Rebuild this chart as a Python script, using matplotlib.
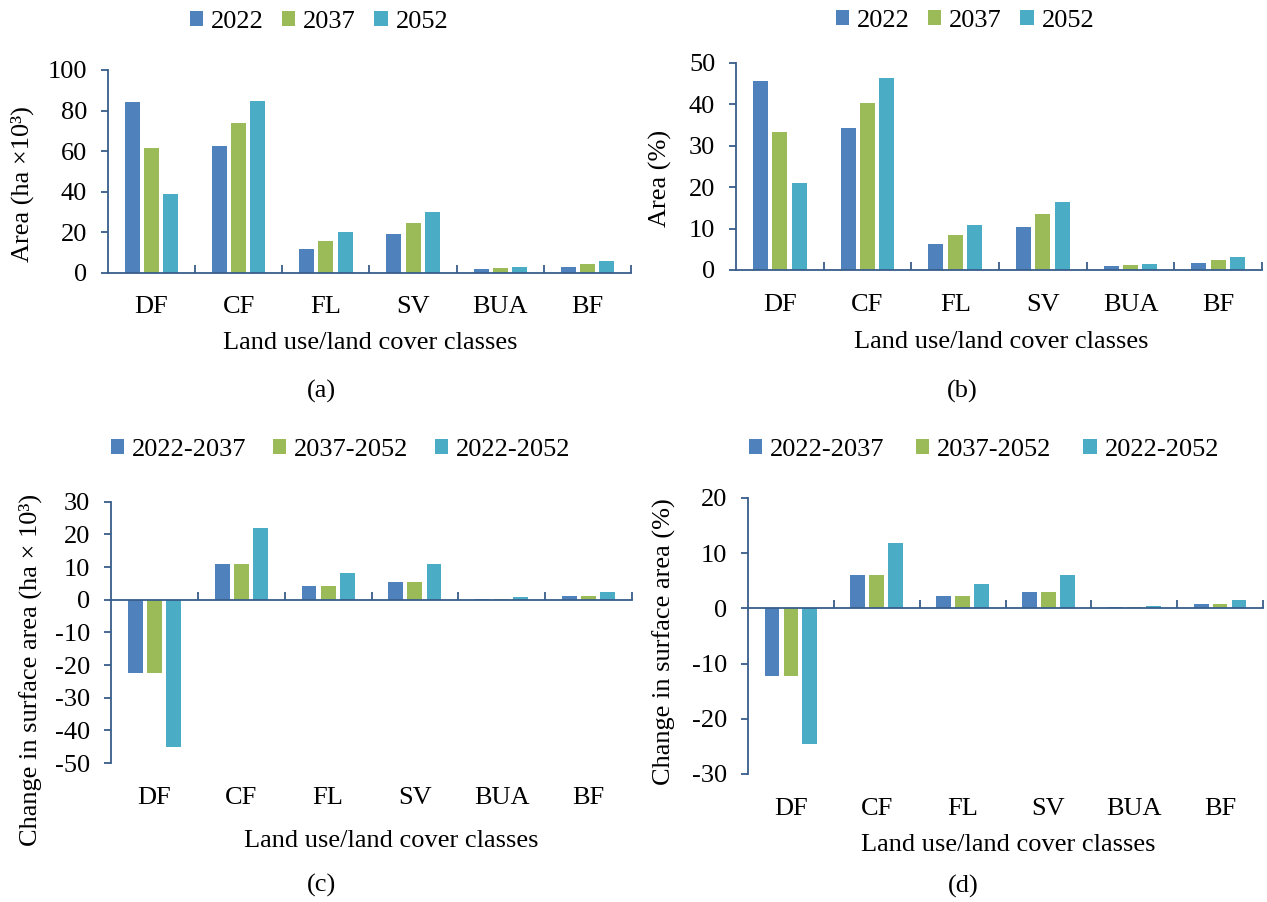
import matplotlib
matplotlib.use("Agg")
import matplotlib.pyplot as plt
import numpy as np
from matplotlib.patches import Patch

plt.rcParams["font.family"] = ["Liberation Serif", "DejaVu Serif"]
plt.rcParams["font.size"] = 19
plt.rcParams["axes.unicode_minus"] = False

# ---- data -------------------------------------------------------------
classes = ["DF", "CF", "FL", "SV", "BUA", "BF"]
years = ["2022", "2037", "2052"]
periods = ["2022-2037", "2037-2052", "2022-2052"]

# (a) area, ha x 10^3
area_2022 = [84.0, 62.7, 11.5, 18.9, 1.7, 3.0]
area_2037 = [61.4, 73.7, 15.6, 24.4, 2.3, 4.1]
area_2052 = [38.8, 84.9, 19.9, 30.1, 2.8, 5.6]

# (b) area, %
pct_2022 = [45.7, 34.2, 6.3, 10.3, 1.0, 1.6]
pct_2037 = [33.4, 40.2, 8.5, 13.4, 1.2, 2.3]
pct_2052 = [21.1, 46.2, 10.9, 16.4, 1.5, 3.1]

# (c) change in surface area, ha x 10^3
chg_ha_2022_2037 = [-22.5, 10.8, 4.2, 5.5, 0.3, 1.2]
chg_ha_2037_2052 = [-22.5, 10.8, 4.2, 5.5, 0.3, 1.2]
chg_ha_2022_2052 = [-45.0, 21.8, 8.3, 11.0, 0.8, 2.5]

# (d) change in surface area, %
chg_pct_2022_2037 = [-12.2, 6.0, 2.3, 3.0, 0.2, 0.8]
chg_pct_2037_2052 = [-12.2, 6.0, 2.3, 3.0, 0.2, 0.8]
chg_pct_2022_2052 = [-24.5, 11.9, 4.5, 6.1, 0.5, 1.45]

# ---- style ------------------------------------------------------------
COLORS = ["#4F81BD", "#9BBB59", "#4BACC6"]
AXIS_COLOR = "#385D8A"
W, H = 1267, 902

fig = plt.figure(figsize=(W / 100, H / 100), dpi=100)


def px_rect(left, top, right, bottom):
    return [left / W, 1 - bottom / H, (right - left) / W, (bottom - top) / H]


def panel(box, series, names, ylim, ystep, ylabel, ylabel_xy, xlabel_xy,
          tag, tag_xy, legend_xy, colspace):
    left, top, right, bottom = box
    ax = fig.add_axes(px_rect(left, top, right, bottom))
    x = np.arange(len(classes))
    offsets = [-0.22, 0.0, 0.22]
    for vals, off, col in zip(series, offsets, COLORS):
        ax.bar(x + off, vals, width=0.172, color=col, linewidth=0)

    ax.set_xlim(-0.5, len(classes) - 0.5)
    ax.set_ylim(*ylim)
    ax.set_yticks(np.arange(ylim[0], ylim[1] + ystep / 2, ystep))

    for s in ("top", "right"):
        ax.spines[s].set_visible(False)
    for s in ("left", "bottom"):
        ax.spines[s].set_color(AXIS_COLOR)
        ax.spines[s].set_linewidth(1.3)
    ax.spines["bottom"].set_position(("data", 0))

    # category separators on the zero line
    ax.set_xticks(x)
    ax.set_xticks(np.arange(0.5, len(classes), 1.0), minor=True)
    ax.tick_params(axis="x", which="major", length=0, labelbottom=False)
    ax.tick_params(axis="x", which="minor", direction="in", length=6,
                   width=1.3, color=AXIS_COLOR)
    ax.tick_params(axis="y", direction="out", length=5, width=1.3,
                   color=AXIS_COLOR, pad=10)

    # class names along the bottom of the plot area
    sec = ax.secondary_xaxis("bottom")
    sec.set_xticks(x, classes)
    sec.tick_params(length=0, pad=17)
    sec.spines["bottom"].set_visible(False)

    def to_axes(px, py):
        return ((px - left) / (right - left), (bottom - py) / (bottom - top))

    ax.set_ylabel(ylabel, va="center")
    ax.yaxis.set_label_coords(*to_axes(*ylabel_xy))
    ax.set_xlabel("Land use/land cover classes", va="center")
    ax.xaxis.set_label_coords(*to_axes(*xlabel_xy))

    fig.text(tag_xy[0] / W, 1 - tag_xy[1] / H, tag, ha="center", va="center")

    handles = [Patch(facecolor=c, edgecolor="none") for c in COLORS]
    fig.legend(handles, names, loc="center",
               bbox_to_anchor=(legend_xy[0] / W, 1 - legend_xy[1] / H),
               ncol=3, frameon=False, handlelength=0.5, handleheight=0.5,
               handletextpad=0.3, columnspacing=colspace, borderpad=0,
               borderaxespad=0)
    return ax


panel((108, 70, 631, 272.7), [area_2022, area_2037, area_2052], years,
      (0, 100), 20, "Area (ha \u00d710\u00b3)", (22, 184), (370, 343),
      "(a)", (321, 391), (319, 22), 0.7)

panel((736, 62.7, 1262, 270), [pct_2022, pct_2037, pct_2052], years,
      (0, 50), 10, "Area (%)", (660, 178), (1001, 342),
      "(b)", (962, 391), (965, 21), 0.7)

panel((111, 501.7, 632, 763),
      [chg_ha_2022_2037, chg_ha_2037_2052, chg_ha_2022_2052], periods,
      (-50, 30), 10, "Change in surface area (ha \u00d7 10\u00b3)",
      (30, 670), (391, 841), "(c)", (321, 885), (341, 450), 1.0)

panel((748, 498, 1263, 774),
      [chg_pct_2022_2037, chg_pct_2037_2052, chg_pct_2022_2052], periods,
      (-30, 20), 10, "Change in surface area (%)",
      (664, 642), (1008, 845), "(d)", (963, 886), (984, 450), 1.2)

fig.savefig("out.png", dpi=100)
